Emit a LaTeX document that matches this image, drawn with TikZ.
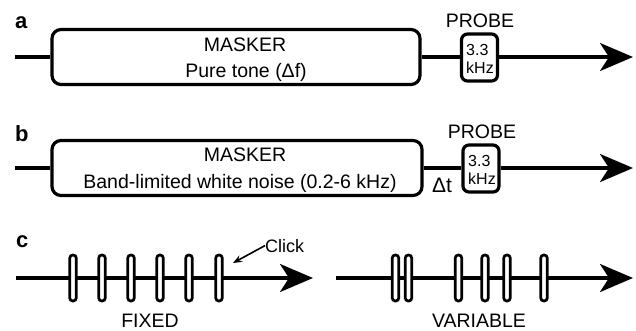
\documentclass[tikz,border=0pt]{standalone}
\usepackage{fontspec}
\setmainfont{Liberation Sans}
\usetikzlibrary{arrows.meta}

\begin{document}
\begin{tikzpicture}[x=1pt,y=-1pt,
  wire/.style={line width=3.2pt},
  flow/.style={wire,-{Stealth[length=33pt,width=28pt,inset=9pt]}},
  maskbox/.style={draw,line width=3.2pt,rounded corners=9pt,minimum height=55pt,inner sep=0pt},
  probebox/.style={draw,fill=white,line width=3.2pt,rounded corners=6pt,minimum width=36pt,minimum height=47pt,inner sep=0pt},
  clickbox/.style={draw,fill=white,line width=2.7pt,rounded corners=3pt,minimum width=6.5pt,minimum height=46pt,inner sep=0pt},
  big/.style={font=\fontsize{19.5}{22}\selectfont,inner sep=0pt,anchor=base},
  small/.style={font=\fontsize{16}{18}\selectfont,inner sep=0pt,anchor=base west},
  tag/.style={font=\fontsize{22}{24}\selectfont\bfseries,inner sep=0pt,anchor=base west}]

\useasboundingbox (0,0) rectangle (636,330);

% ---- panel a: pure-tone masker followed by the probe
\node[tag] (la) at (15,28) {a};
\coordinate (a0) at (15,57);
\coordinate (aend) at (633,57);
\node[maskbox,minimum width=368pt] (ma) at (236,57) {};
\node[big] (ma1) at (245,51) {MASKER};
\node[big] (ma2) at (246,77) {Pure tone (Δf)};
\node[probebox] (pa) at (479.5,57.5) {};
\node[small] (pa1) at (466,55) {3.3};
\node[small] (pa2) at (466,73) {kHz};
\node[big] (pla) at (480,27) {PROBE};
\draw[wire] (a0) -- (ma.west);
\draw[wire] (ma.east) -- (pa.west |- ma.east);
\draw[flow] (pa.east |- aend) -- (aend);

% ---- panel b: noise masker, gap, probe
\node[tag] (lb) at (15,141) {b};
\coordinate (b0) at (15,168);
\coordinate (bend) at (633,168);
\node[maskbox,minimum width=370pt] (mb) at (237,168) {};
\node[big] (mb1) at (245,161) {MASKER};
\node[big] (mb2) at (240,188) {Band-limited white noise (0.2-6 kHz)};
\node[probebox] (pb) at (481,168.5) {};
\node[small] (pb1) at (468,166) {3.3};
\node[small] (pb2) at (468,184) {kHz};
\node[big] (plb) at (482,138) {PROBE};
\node[font=\fontsize{21}{24}\selectfont,inner sep=0pt,anchor=base] (dt) at (442,192) {Δt};
\draw[wire] (b0) -- (mb.west);
\draw[wire] (mb.east) -- (pb.west |- mb.east);
\draw[flow] (pb.east |- bend) -- (bend);

% ---- panel c: click trains
\node[tag] (lc) at (16,247) {c};
\coordinate (c0) at (16,278);
\coordinate (cend) at (313,278);
\coordinate (v0) at (336,278);
\coordinate (vend) at (633,278);
\draw[flow] (c0) -- (cend);
\draw[flow] (v0) -- (vend);

\foreach \i/\x in {1/73,2/102,3/131,4/160,5/189,6/219}
  \node[clickbox] (f\i) at (\x,278) {};
\foreach \i/\x in {1/395.5,2/408.5,3/458.5,4/485,5/507,6/544}
  \node[clickbox] (v\i) at (\x,278) {};

\node[font=\fontsize{18}{20}\selectfont,inner sep=0pt,anchor=base west] (clk) at (265,252) {Click};
\coordinate (clktip) at (233,263);
\draw[line width=1.6pt,-{Stealth[length=9pt,width=7pt]}] (clk.west) -- (clktip);

\node[big] (fixed) at (150,327) {FIXED};
\node[big] (var) at (479,327) {VARIABLE};
\end{tikzpicture}
\end{document}
